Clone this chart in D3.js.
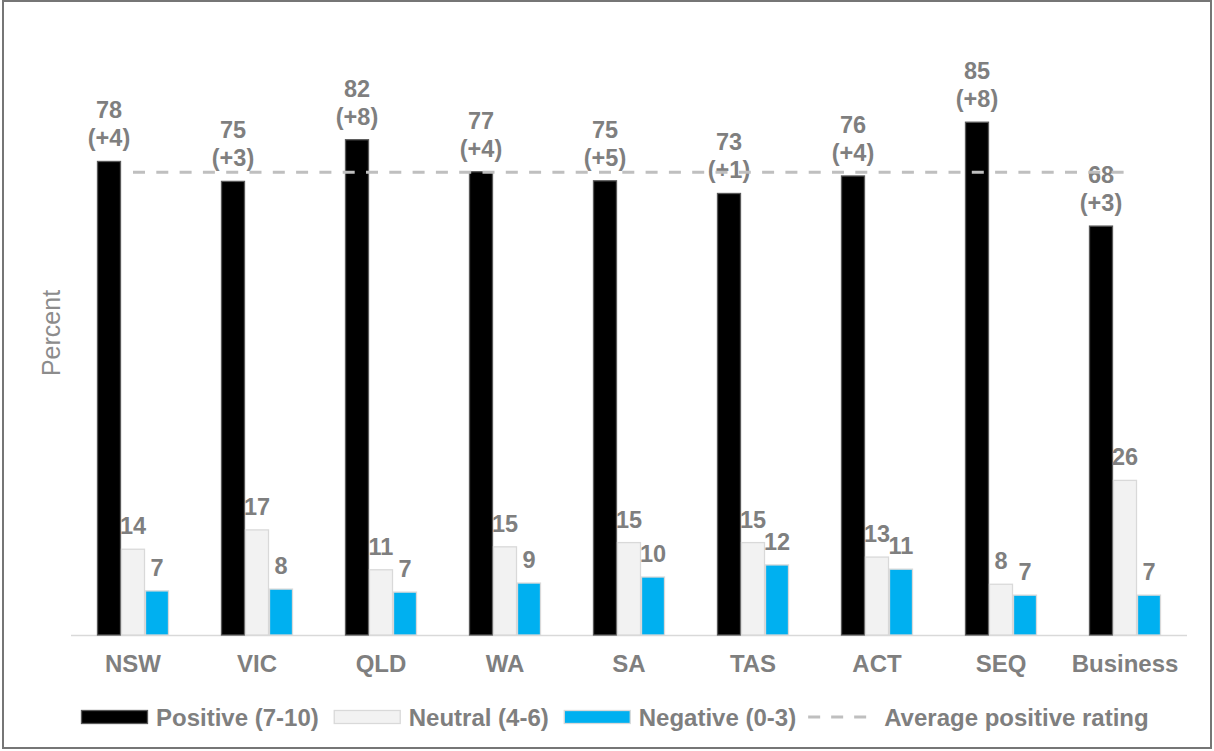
<!DOCTYPE html>
<html>
<head>
<meta charset="utf-8">
<script src="https://cdn.jsdelivr.net/npm/d3@7/dist/d3.min.js"></script>
<style>
  html, body { margin: 0; padding: 0; background: #fff; }
  svg { display: block; font-family: "Liberation Sans", Arial, sans-serif; }
</style>
</head>
<body>
<svg id="chart" width="1214" height="751"></svg>
<script>
// ---- data ----
const categories = ["NSW", "VIC", "QLD", "WA", "SA", "TAS", "ACT", "SEQ", "Business"];
const positive = [78.4, 75.1, 82.0, 76.7, 75.2, 73.1, 76.0, 84.9, 67.7];
const positiveChange = [4, 3, 8, 4, 5, 1, 4, 8, 3];
const neutral = [14.2, 17.4, 10.8, 14.6, 15.3, 15.3, 12.9, 8.4, 25.6];
const negative = [7.3, 7.6, 7.1, 8.6, 9.6, 11.6, 10.9, 6.6, 6.6];
const averagePositive = 76.6;
const seriesNames = ["Positive (7-10)", "Neutral (4-6)", "Negative (0-3)"];
const averageName = "Average positive rating";
const yDomain = [0, 100];

// ---- styles ----
const fills = ["#000000", "#f2f2f2", "#00b0f0"];
const strokes = ["#595959", "#d9d9d9", "#d9d9d9"];
const textGray = "#7f7f7f";

const svg = d3.select("#chart");

// outer frame
svg.append("rect")
  .attr("x", 3).attr("y", 1).attr("width", 1208).attr("height", 747)
  .attr("fill", "none").attr("stroke", "#767676").attr("stroke-width", 2);

const plot = { left: 71, right: 1187, top: 31, bottom: 635 };

const x0 = d3.scaleBand().domain(categories).range([plot.left, plot.right]).padding(0);
const x1 = d3.scaleBand().domain(d3.range(3)).range([26, 98]).padding(0);
const y = d3.scaleLinear().domain(yDomain).range([plot.bottom, plot.top]);

const seriesValues = [positive, neutral, negative];

// baseline axis
svg.append("line")
  .attr("x1", plot.left).attr("x2", plot.right)
  .attr("y1", plot.bottom + 0.5).attr("y2", plot.bottom + 0.5)
  .attr("stroke", "#d9d9d9").attr("stroke-width", 1.5);

// bars
const groups = svg.append("g").selectAll("g")
  .data(categories).join("g")
  .attr("transform", d => `translate(${x0(d)},0)`);

groups.each(function(cat, ci) {
  const g = d3.select(this);
  seriesValues.forEach((vals, si) => {
    g.append("rect")
      .attr("x", x1(si) + 0.5)
      .attr("width", x1.bandwidth() - 1)
      .attr("y", y(vals[ci]))
      .attr("height", y(0) - y(vals[ci]))
      .attr("fill", fills[si])
      .attr("stroke", strokes[si])
      .attr("stroke-width", 1.3);
  });
});

// average line (from first to last category centre)
const xc = c => x0(c) + x0.bandwidth() / 2;
svg.append("line")
  .attr("x1", xc(categories[0])).attr("x2", xc(categories[categories.length - 1]))
  .attr("y1", y(averagePositive)).attr("y2", y(averagePositive))
  .attr("stroke", "#bfbfbf").attr("stroke-width", 3)
  .attr("stroke-dasharray", "12,11.3");

// data labels
const labelFont = 23.5;
const labelGap = 15;
groups.each(function(cat, ci) {
  const g = d3.select(this);
  const cx = x1(0) + x1.bandwidth() / 2;
  const t = g.append("text")
    .attr("text-anchor", "middle")
    .attr("font-size", labelFont).attr("font-weight", "bold")
    .attr("fill", textGray);
  t.append("tspan").attr("x", cx)
    .attr("y", y(positive[ci]) - labelGap - 28)
    .text(Math.round(positive[ci]));
  t.append("tspan").attr("x", cx)
    .attr("y", y(positive[ci]) - labelGap)
    .text(`(+${positiveChange[ci]})`);
  [neutral, negative].forEach((vals, k) => {
    const si = k + 1;
    g.append("text")
      .attr("x", x1(si) + x1.bandwidth() / 2)
      .attr("y", y(vals[ci]) - labelGap)
      .attr("text-anchor", "middle")
      .attr("font-size", labelFont).attr("font-weight", "bold")
      .attr("fill", textGray)
      .text(Math.round(vals[ci]));
  });
});

// category axis labels
svg.append("g").selectAll("text")
  .data(categories).join("text")
  .attr("x", d => xc(d))
  .attr("y", 672)
  .attr("text-anchor", "middle")
  .attr("font-size", 24).attr("font-weight", "bold")
  .attr("fill", textGray)
  .text(d => d);

// y axis title
svg.append("text")
  .attr("transform", "translate(60,333) rotate(-90)")
  .attr("text-anchor", "middle")
  .attr("font-size", 25)
  .attr("fill", "#8c8c8c")
  .text("Percent");

// legend
const legend = svg.append("g");
let lx = 81;
const swW = 67, swTop = 710, swH = 13, legBase = 726;
seriesNames.forEach((name, si) => {
  legend.append("rect")
    .attr("x", lx + 0.5).attr("y", swTop + 0.5)
    .attr("width", swW - 1).attr("height", swH)
    .attr("fill", fills[si]).attr("stroke", strokes[si]).attr("stroke-width", 1.3);
  lx += swW + 8;
  const tt = legend.append("text")
    .attr("x", lx).attr("y", legBase)
    .attr("font-size", 24).attr("font-weight", "bold")
    .attr("fill", textGray).text(name);
  lx += tt.node().getComputedTextLength() + 15;
});
lx -= 3;
legend.append("line")
  .attr("x1", lx).attr("x2", lx + 58)
  .attr("y1", swTop + swH / 2 + 0.5).attr("y2", swTop + swH / 2 + 0.5)
  .attr("stroke", "#bfbfbf").attr("stroke-width", 3)
  .attr("stroke-dasharray", "12,11");
lx += 58 + 18;
legend.append("text")
  .attr("x", lx).attr("y", legBase)
  .attr("font-size", 24).attr("font-weight", "bold")
  .attr("fill", textGray).text(averageName);
</script>
</body>
</html>
